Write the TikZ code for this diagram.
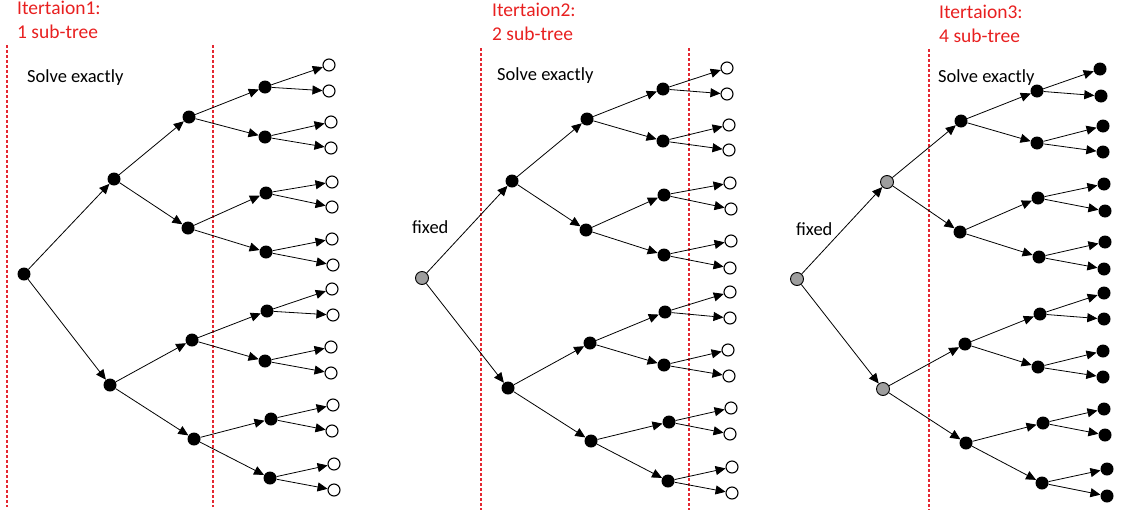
\documentclass[tikz,border=0pt]{standalone}
\usepackage{fontspec}
\setmainfont{Carlito}
\usetikzlibrary{arrows.meta}
\definecolor{titlered}{RGB}{232,32,32}
\definecolor{cutred}{RGB}{228,40,50}
\definecolor{fixgray}{RGB}{158,158,158}
\begin{document}
\begin{tikzpicture}[x=1pt,y=-1pt,
  vtx/.style={circle, inner sep=0pt, minimum size=13pt},
  solved/.style={vtx, fill=black},
  open/.style={vtx, draw=black, line width=1.1pt, fill=white, minimum size=12pt},
  fixedv/.style={vtx, draw=black, line width=0.9pt, fill=fixgray},
  edge/.style={-{Triangle[length=10pt,width=9pt]}, line width=0.8pt, black},
  cut/.style={draw=cutred, line width=1.1pt, dash pattern=on 3pt off 2pt},
  title/.style={anchor=base west, inner sep=0pt, text=titlered, font=\fontsize{19.5pt}{23pt}\selectfont},
  note/.style={anchor=base west, inner sep=0pt, font=\fontsize{18.5pt}{22pt}\selectfont}]
\useasboundingbox (0,0) rectangle (1135,517);

% ---------------- first iteration: one sub-tree ----------------
\draw[cut] (7,45) -- (7,507);
\draw[cut] (213,45) -- (213,507);
\node[title] (h1a) at (17,14) {Itertaion1:};
\node[title] (h1b) at (17,38) {1 sub-tree};
\node[note] (s1) at (27,82) {Solve exactly};
\foreach \k/\x/\y in {1/24/274, 2/114/179, 3/110/385,
  4/189/117, 5/188/228, 6/192/340, 7/194/439,
  8/265/87, 9/265/137, 10/266/193, 11/266/252,
  12/267/311, 13/265/361, 14/271/419, 15/270/478}
  {\node[solved] (A\k) at (\x,\y) {};}
\foreach \k/\x/\y in {16/329/65, 17/329/91, 18/331/122, 19/331/148,
  20/332/182, 21/332/207, 22/332/239, 23/333/265,
  24/332/289, 25/333/315, 26/331/347, 27/331/373,
  28/333/405, 29/332/431, 30/334/464, 31/334/490}
  {\node[open] (A\k) at (\x,\y) {};}

% ---------------- second iteration: two sub-trees ----------------
\draw[cut] (481,48) -- (481,510);
\draw[cut] (689,48) -- (689,510);
\node[title] (h2a) at (492,16) {Itertaion2:};
\node[title] (h2b) at (492,40) {2 sub-tree};
\node[note] (s2) at (497,80) {Solve exactly};
\node[note] (f2) at (412,233) {fixed};
\node[fixedv] (B1) at (422,278) {};
\foreach \k/\x/\y in {2/512/181, 3/508/388,
  4/587/119, 5/586/230, 6/590/343, 7/591/441,
  8/663/89, 9/663/141, 10/664/195, 11/664/255,
  12/665/312, 13/664/365, 14/669/422, 15/668/481}
  {\node[solved] (B\k) at (\x,\y) {};}
\foreach \k/\x/\y in {16/727/68, 17/727/94, 18/729/125, 19/729/150,
  20/730/183, 21/731/209, 22/731/241, 23/730/268,
  24/730/292, 25/730/318, 26/728/350, 27/729/376,
  28/731/408, 29/730/434, 30/732/467, 31/732/493}
  {\node[open] (B\k) at (\x,\y) {};}

% ---------------- third iteration: four sub-trees ----------------
\draw[cut] (929,49) -- (929,510);
\node[title] (h3a) at (939,18) {Itertaion3:};
\node[title] (h3b) at (939,42) {4 sub-tree};
\node[note] (s3) at (938,82) {Solve exactly};
\node[note] (f3) at (796,235) {fixed};
\foreach \k/\x/\y in {1/797/279, 2/887/182, 3/883/389}
  {\node[fixedv] (C\k) at (\x,\y) {};}
\foreach \k/\x/\y in {4/961/121, 5/960/232, 6/965/344, 7/966/443,
  8/1037/91, 9/1037/143, 10/1038/198, 11/1039/257,
  12/1040/314, 13/1038/367, 14/1043/423, 15/1042/483,
  16/1100/69, 17/1101/96, 18/1103/126, 19/1103/152,
  20/1104/184, 21/1105/211, 22/1105/242, 23/1104/269,
  24/1104/293, 25/1104/319, 26/1103/351, 27/1103/377,
  28/1104/409, 29/1105/435, 30/1107/469, 31/1107/496}
  {\node[solved] (C\k) at (\x,\y) {};}

% ---------------- branches: node k has children 2k and 2k+1 ----------------
\foreach \tr in {A,B,C}{
  \foreach \k in {1,...,15}{
    \pgfmathtruncatemacro{\lc}{2*\k}
    \pgfmathtruncatemacro{\rc}{2*\k+1}
    \draw[edge] (\tr\k) -- (\tr\lc);
    \draw[edge] (\tr\k) -- (\tr\rc);
  }
}
\end{tikzpicture}
\end{document}
